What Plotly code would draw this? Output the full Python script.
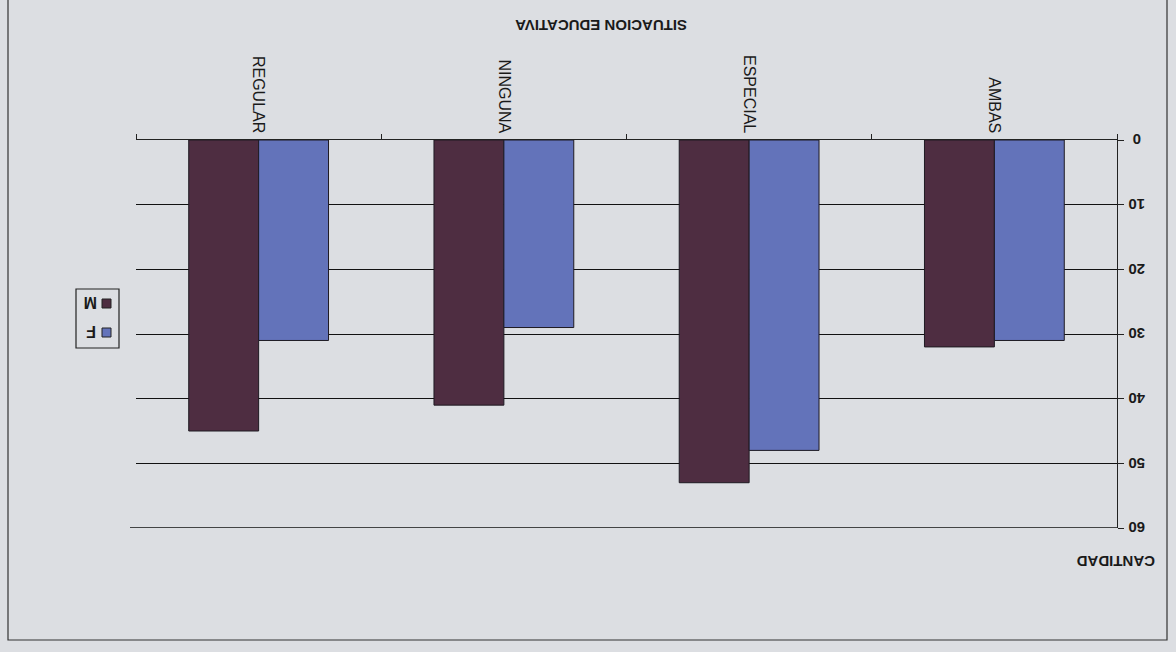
import plotly.graph_objects as go

categories = ["REGULAR", "NINGUNA", "ESPECIAL", "AMBAS"]
m_values = [45, 41, 53, 32]
f_values = [31, 29, 48, 31]
y_ticks = [0, 10, 20, 30, 40, 50, 60]
y_tick_labels = ["0", "10", "20", "30", "40", "50", "60"]

MAROON = "#4e2d41"
BLUE = "#6373ba"
BG = "#dcdee2"
INK = "#1a1a1a"
FONT = "Liberation Sans, Arial, sans-serif"

W, H = 1176, 652
L, R, T, B = 136, 1117, 140, 528


def px(x):
    return (x - L) / (R - L)


def py(y):
    return (B - y) / (B - T)


fig = go.Figure()
fig.add_trace(go.Bar(x=categories, y=m_values, name="M",
                     marker=dict(color=MAROON, line=dict(color="#1e1a22", width=1)), showlegend=False))
fig.add_trace(go.Bar(x=categories, y=f_values, name="F",
                     marker=dict(color=BLUE, line=dict(color="#1e1a22", width=1)), showlegend=False))

shapes = [
    # outer frame
    dict(type="rect", xref="paper", yref="paper", x0=px(8), x1=px(1167), y0=py(640), y1=py(-4),
         line=dict(color="#333333", width=1.2), fillcolor="rgba(0,0,0,0)", layer="below"),
    # bottom gridline at the range edge
    dict(type="line", xref="paper", yref="y", x0=px(130), x1=1, y0=y_ticks[-1], y1=y_ticks[-1],
         line=dict(color="#111111", width=1.3)),
    # legend box
    dict(type="rect", xref="paper", yref="paper", x0=px(76), x1=px(119), y0=py(348), y1=py(289),
         line=dict(color="#222222", width=1.2), fillcolor="rgba(0,0,0,0)"),
    dict(type="rect", xref="paper", yref="paper", x0=px(102), x1=px(111), y0=py(308), y1=py(299),
         line=dict(color="#222222", width=1), fillcolor=MAROON),
    dict(type="rect", xref="paper", yref="paper", x0=px(102), x1=px(111), y0=py(337), y1=py(328),
         line=dict(color="#222222", width=1), fillcolor=BLUE),
]

annotations = [
    dict(text="<b>SITUACION EDUCATIVA</b>", x=px(601), y=py(25), size=15),
    dict(text="<b>CANTIDAD</b>", x=px(1116), y=py(562), size=15),
    dict(text="<b>M</b>", x=px(91), y=py(303), size=16),
    dict(text="<b>F</b>", x=px(91), y=py(332), size=16),
]
annotations = [
    dict(text=a["text"], xref="paper", yref="paper", x=a["x"], y=a["y"], showarrow=False,
         textangle=180, xanchor="center", yanchor="middle",
         font=dict(family=FONT, size=a["size"], color=INK))
    for a in annotations
]
for v, t in zip(y_ticks, y_tick_labels):
    annotations.append(dict(text="<b>%s</b>" % t, xref="paper", yref="y", x=px(1137), y=v,
                            showarrow=False, textangle=180, xanchor="center", yanchor="middle",
                            font=dict(family=FONT, size=15, color=INK)))

fig.update_layout(
    width=W, height=H,
    margin=dict(l=L, r=W - R, t=T, b=H - B, pad=0),
    paper_bgcolor=BG, plot_bgcolor=BG,
    barmode="group", bargap=0.43, bargroupgap=0,
    font=dict(family=FONT, color=INK),
    shapes=shapes, annotations=annotations,
    xaxis=dict(side="top", type="category", categoryorder="array", categoryarray=categories,
               tickangle=90, tickson="boundaries", ticks="outside", ticklen=5, tickcolor="#222",
               showline=True, linecolor="#222", linewidth=1.3, showgrid=False,
               tickfont=dict(family=FONT, size=16, color=INK)),
    yaxis=dict(side="right", range=[60, 0], tickvals=y_ticks, showticklabels=False,
               ticks="outside", ticklen=6, tickcolor="#222",
               showline=True, linecolor="#222", linewidth=1.3,
               showgrid=True, gridcolor="#111", gridwidth=1.3, zeroline=False),
)

fig.write_html(
    "out.html",
    config={"displayModeBar": False},
    post_script="document.body.style.margin='0';document.body.style.background='%s';" % BG,
)
